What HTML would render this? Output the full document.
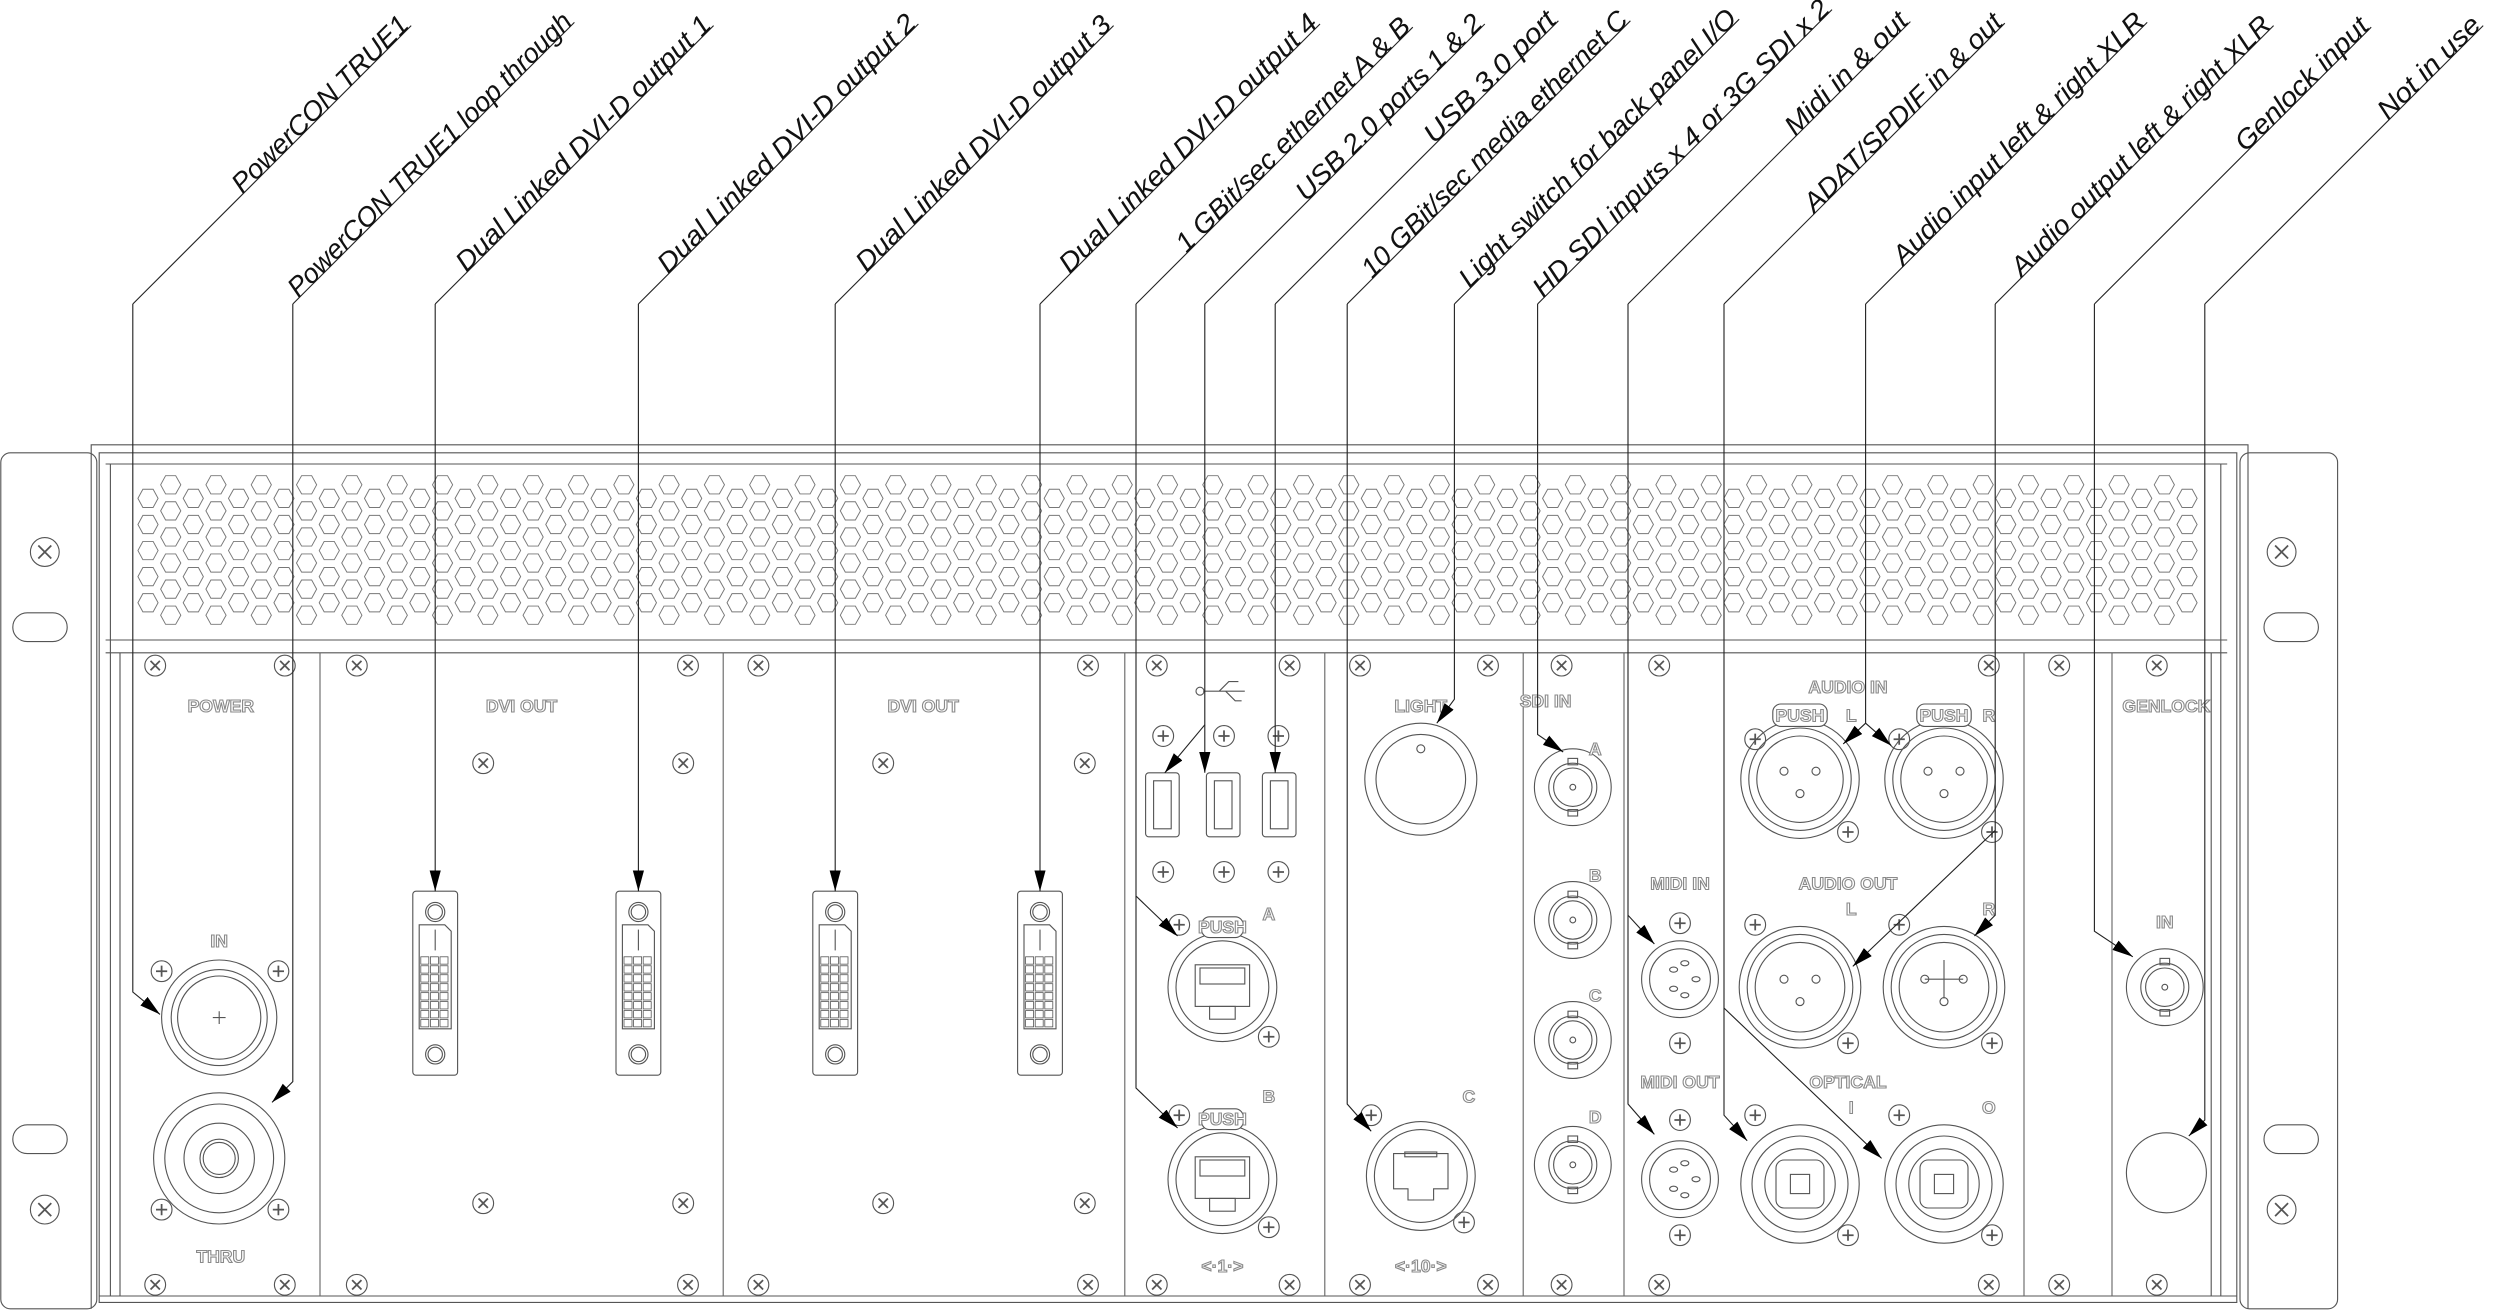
<!DOCTYPE html>
<html><head><meta charset="utf-8">
<style>
html,body{margin:0;padding:0;background:#fff;}
svg{display:block;}
.lbl{font-family:"Liberation Sans",sans-serif;font-style:italic;font-size:17px;fill:#111;}
.g{font-family:"Liberation Sans",sans-serif;font-weight:bold;font-size:11px;fill:#fff;stroke:#8a8a8a;stroke-width:0.7;text-anchor:middle;}
</style></head>
<body>
<svg id="s" xmlns="http://www.w3.org/2000/svg" width="2500" height="1312" viewBox="0 0 1562.5 820">
<defs>
<marker id="ar" markerUnits="userSpaceOnUse" markerWidth="14" markerHeight="8" refX="13" refY="3.5" orient="auto">
<path d="M0,0 L13,3.5 L0,7 Z" fill="#000"/></marker>
</defs>
<g id="base" fill="none" stroke="#555" stroke-width="0.7">
<rect x="0.5" y="283" width="60" height="535" rx="6"/>
<rect x="1400" y="283" width="61" height="535" rx="6"/>
<path d="M57,818 V278 H1405 V818"/>
<path d="M62,814 V283 H1398 V814 Z"/>
<line x1="66" y1="290" x2="1392" y2="290"/>
<line x1="66" y1="400" x2="1392" y2="400"/>
<line x1="66" y1="408" x2="1392" y2="408"/>
<line x1="62" y1="810" x2="1398" y2="810"/>
<line x1="69" y1="290" x2="69" y2="810"/>
<line x1="75" y1="408" x2="75" y2="810"/>
<line x1="1388" y1="290" x2="1388" y2="810"/>
<line x1="1382" y1="408" x2="1382" y2="810"/>
<g stroke="#666">
<line x1="200" y1="408" x2="200" y2="810"/>
<line x1="452" y1="408" x2="452" y2="810"/>
<line x1="703" y1="408" x2="703" y2="810"/>
<line x1="828" y1="408" x2="828" y2="810"/>
<line x1="952" y1="408" x2="952" y2="810"/>
<line x1="1015" y1="408" x2="1015" y2="810"/>
<line x1="1265" y1="408" x2="1265" y2="810"/>
<line x1="1320" y1="408" x2="1320" y2="810"/>
</g>
<rect x="8" y="383" width="34" height="18" rx="9"/>
<rect x="8" y="703" width="34" height="18" rx="9"/>
<rect x="1415" y="383" width="34" height="18" rx="9"/>
<rect x="1415" y="703" width="34" height="18" rx="9"/>
</g>
<g id="hex" fill="none" stroke="#777" stroke-width="0.6"></g>
<g id="parts" fill="none" stroke="#555" stroke-width="0.7"></g>
<g id="glabels">
<text class="g" x="138" y="445">POWER</text>
<text class="g" x="326" y="445">DVI OUT</text>
<text class="g" x="577" y="445">DVI OUT</text>
<text class="g" x="888" y="445">LIGHT</text>
<text class="g" x="966" y="442">SDI IN</text>
<text class="g" x="1155" y="433">AUDIO IN</text>
<text class="g" x="1354" y="445">GENLOCK</text>
<text class="g" x="137" y="592">IN</text>
<text class="g" x="138" y="789">THRU</text>
<text class="g" x="1050" y="556">MIDI IN</text>
<text class="g" x="1155" y="556">AUDIO OUT</text>
<text class="g" x="1050" y="680">MIDI OUT</text>
<text class="g" x="1155" y="680">OPTICAL</text>
<text class="g" x="1353" y="580">IN</text>
<text class="g" x="997" y="472">A</text>
<text class="g" x="997" y="551">B</text>
<text class="g" x="997" y="626">C</text>
<text class="g" x="997" y="702">D</text>
<text class="g" x="793" y="575">A</text>
<text class="g" x="793" y="689">B</text>
<text class="g" x="918" y="689">C</text>
<text class="g" x="1157" y="451">L</text>
<text class="g" x="1243" y="451">R</text>
<text class="g" x="1157" y="572">L</text>
<text class="g" x="1243" y="572">R</text>
<text class="g" x="1157" y="696">I</text>
<text class="g" x="1243" y="696">O</text>
<text class="g" x="764" y="795">&lt;·1·&gt;</text>
<text class="g" x="888" y="795">&lt;·10·&gt;</text>
</g>
<g id="leaders" fill="none" stroke="#222" stroke-width="0.7"></g>
<g id="texts"></g>
</svg>
<script>
(function(){
var NS="http://www.w3.org/2000/svg";
function add(g,tag,attrs,txt){var e=document.createElementNS(NS,tag);for(var k in attrs)e.setAttribute(k,attrs[k]);if(txt!=null)e.textContent=txt;document.getElementById(g).appendChild(e);return e;}
function hexPts(cx,cy,w,h){var a=w/2,q=w/4,b=h/2;return [[cx-a,cy],[cx-q,cy-b],[cx+q,cy-b],[cx+a,cy],[cx+q,cy+b],[cx-q,cy+b]].map(function(p){return p[0].toFixed(1)+","+p[1].toFixed(1)}).join(" ");}
for(var c=0;c<91;c++){
 var x=92.5+c*14.16; if(x>1372)break;
 var odd=c%2==1;
 var y0=odd?303:311.5; var n=odd?6:5;
 for(var r=0;r<n;r++){var y=y0+r*16.3;add("hex","polygon",{points:hexPts(x,y,12.6,11.4)});}
}
function sx(x,y,r){r=r||6.5;add("parts","circle",{cx:x,cy:y,r:r});var k=r*0.45;add("parts","path",{d:"M"+(x-k)+","+(y-k)+"L"+(x+k)+","+(y+k)+"M"+(x+k)+","+(y-k)+"L"+(x-k)+","+(y+k),"stroke-width":1.1});}
function sp(x,y){add("parts","circle",{cx:x,cy:y,r:6.5});add("parts","path",{d:"M"+(x-3.5)+","+y+"H"+(x+3.5)+"M"+x+","+(y-3.5)+"V"+(y+3.5),"stroke-width":1.1});}
[97,178,223,430,474,680,723,806,850,930,976,1037,1243,1287,1348].forEach(function(x){sx(x,416);sx(x,803);});
[[302,477],[427,477],[552,477],[678,477],[302,752],[427,752],[552,752],[678,752]].forEach(function(p){sx(p[0],p[1]);});
[[28,345],[28,756],[1426,345],[1426,756]].forEach(function(p){sx(p[0],p[1],9);});
[[101,607],[174,607],[101,756],[174,756],[727,460],[765,460],[799,460],[727,545],[765,545],[799,545],
 [737,578],[793,648],[737,697],[793,767],[857,697],[915,764],
 [1050,577],[1050,652],[1050,700],[1050,772],
 [1097,462],[1187,462],[1155,520],[1245,520],
 [1097,578],[1187,578],[1155,652],[1245,652],
 [1097,697],[1187,697],[1155,772],[1245,772]].forEach(function(p){sp(p[0],p[1]);});
function C(x,y,r,extra){var a={cx:x,cy:y,r:r};for(var k in extra)a[k]=extra[k];add("parts","circle",a);}
C(137,636,36);C(137,636,30);C(137,636,26);add("parts","path",{d:"M133,636H141M137,632V640"});
C(137,724,41);C(137,724,34);C(137,724,22);C(137,724,12);C(137,724,10);
[272,399,522,650].forEach(function(x){
 add("parts","rect",{x:x-14,y:557,width:28,height:115,rx:2});
 C(x,570,6);C(x,570,4.5);C(x,659,6);C(x,659,4.5);
 add("parts","path",{d:"M"+(x-10)+",578 H"+(x+6)+" L"+(x+10)+",582 V643 H"+(x-10)+" Z"});
 for(var i=0;i<8;i++)for(var j=0;j<3;j++)add("parts","rect",{x:x-9+j*6,y:598+i*5.6,width:5,height:4.6,"stroke-width":0.5});
 add("parts","line",{x1:x,y1:581,x2:x,y2:594});
});
[716,754,789].forEach(function(x){add("parts","rect",{x:x,y:483,width:21,height:40,rx:2});add("parts","rect",{x:x+5,y:488,width:11,height:30});});
add("parts","path",{d:"M752,432 H778 M762,432 L768,426 H774 M766,432 L772,438 H776",});C(750,432,2.5);
[[764,617],[764,737]].forEach(function(p){var x=p[0],y=p[1];
 C(x,y,34);C(x,y,29);add("parts","rect",{x:x-17,y:y-14,width:34,height:26});
 add("parts","rect",{x:x-8,y:y+12,width:16,height:8});
 add("parts","rect",{x:x-14,y:y-12,width:28,height:10});
 add("parts","rect",{x:x-13,y:y-44,width:26,height:13,rx:5,fill:"#fff"});
 add("parts","text",{x:x,y:y-34,"class":"g",stroke:"#777"},"PUSH");
});
C(888,487,35);C(888,487,28);C(888,468,2.5);
C(888,735,34);C(888,735,29);add("parts","path",{d:"M871,721 H905 V743 H896 V750 H880 V743 H871 Z"});add("parts","rect",{x:878,y:720,width:20,height:3});
[492,575,650,728].forEach(function(y){C(983,y,24);C(983,y,15);C(983,y,12);C(983,y,1.8);add("parts","rect",{x:980,y:y-18,width:6,height:4});add("parts","rect",{x:980,y:y+14,width:6,height:4});});
[612,737].forEach(function(y){C(1050,y,24);C(1050,y,19);[[0,-10],[-7,-6],[7,0],[-7,6],[0,10]].forEach(function(o){add("parts","ellipse",{cx:1050+o[0]+3,cy:y+o[1],rx:2.5,ry:1.6});});});
[1125,1215].forEach(function(x){
 C(x,487,37);C(x,487,32);C(x,487,27);C(x-10,482,2.5);C(x+10,482,2.5);C(x,496,2.5);
 add("parts","rect",{x:x-17,y:440,width:34,height:14,rx:5,fill:"#fff"});
 add("parts","text",{x:x,y:451,"class":"g",stroke:"#777"},"PUSH");
});
C(1125,617,38);C(1125,617,33);C(1125,617,28);C(1115,612,2.5);C(1135,612,2.5);C(1125,626,2.5);
C(1215,617,38);C(1215,617,33);C(1215,617,28);add("parts","path",{d:"M1203,612H1227M1215,600V624"});C(1203,612,2.5);C(1227,612,2.5);C(1215,626,2.5);
[1125,1215].forEach(function(x){C(x,740,37);C(x,740,30);C(x,740,22);add("parts","rect",{x:x-15,y:725,width:30,height:30,rx:5});add("parts","rect",{x:x-6,y:734,width:12,height:12});});
C(1353,617,24);C(1353,617,15);C(1353,617,12);C(1353,617,1.8);
add("parts","rect",{x:1350,y:599,width:6,height:4});add("parts","rect",{x:1350,y:631,width:6,height:4});
C(1354,733,25);

function L(pts){add("leaders","polyline",{points:pts,"marker-end":"url(#ar)"});}
var labels=[
 [83,67,255,"PowerCON TRUE1"],
 [183,2,357,"PowerCON TRUE1 loop through"],
 [272,18,444,"Dual Linked DVI-D output 1"],
 [399,17,572,"Dual Linked DVI-D output 2"],
 [522,18,694,"Dual Linked DVI-D output 3"],
 [650,17,823,"Dual Linked DVI-D output 4"],
 [710,30,881,"1 GBit/sec ethernet A & B"],
 [753,62,926,"USB 2.0 ports 1 & 2"],
 [797,98,972,"USB 3.0 port"],
 [842,14,1017,"10 GBit/sec media ethernet C"],
 [909,8,1085,"Light switch for back panel I/O"],
 [961,2,1143,"HD SDI inputs x 4 or 3G SDI x 2"],
 [1017.5,103,1192,"Midi in & out"],
 [1077.5,55,1251,"ADAT/SPDIF in & out"],
 [1166,22,1340,"Audio input left & right XLR"],
 [1247,15,1419,"Audio output left & right XLR"],
 [1309,93,1480,"Genlock input"],
 [1378,113,1550,"Not in use"]
];
labels.forEach(function(l){
 var xk=l[0],s=l[1],xe=l[2];
 add("leaders","line",{x1:xk,y1:190,x2:xe+2,y2:190-(xe+2-xk)});
 var sx0=xk+s, sy0=190-s;
 var len=(xe-sx0)*1.4142;
 add("texts","text",{"class":"lbl",transform:"translate("+(sx0+1.5)+","+(sy0-1.5)+") rotate(-45)",textLength:len.toFixed(1),lengthAdjust:"spacingAndGlyphs"},l[3]);
});
L("83,190 83,620 100,634");
L("183,190 183,676 170,689");
L("272,190 272,557");L("399,190 399,557");L("522,190 522,557");L("650,190 650,557");
L("710,190 710,560 736,585");L("710,560 710,680 736,705");
L("753,190 753,483");L("753,453 728,483");
L("797,190 797,483");
L("842,190 842,690 857,707");
L("909,190 909,437 898,452");
L("961,190 961,459 977,470");
L("1017.5,190 1017.5,572 1034,590");L("1017.5,572 1017.5,690 1034,709");
L("1077.5,190 1077.5,697 1092,713");L("1077.5,630 1176,724");
L("1166,190 1166,452 1152,465");L("1166,452 1182,466");
L("1247,190 1247,572 1234,585");L("1247,519 1158,604");
L("1309,190 1309,582 1333,598");
L("1378,190 1378,700 1368,710");
})();
</script>
</body></html>
